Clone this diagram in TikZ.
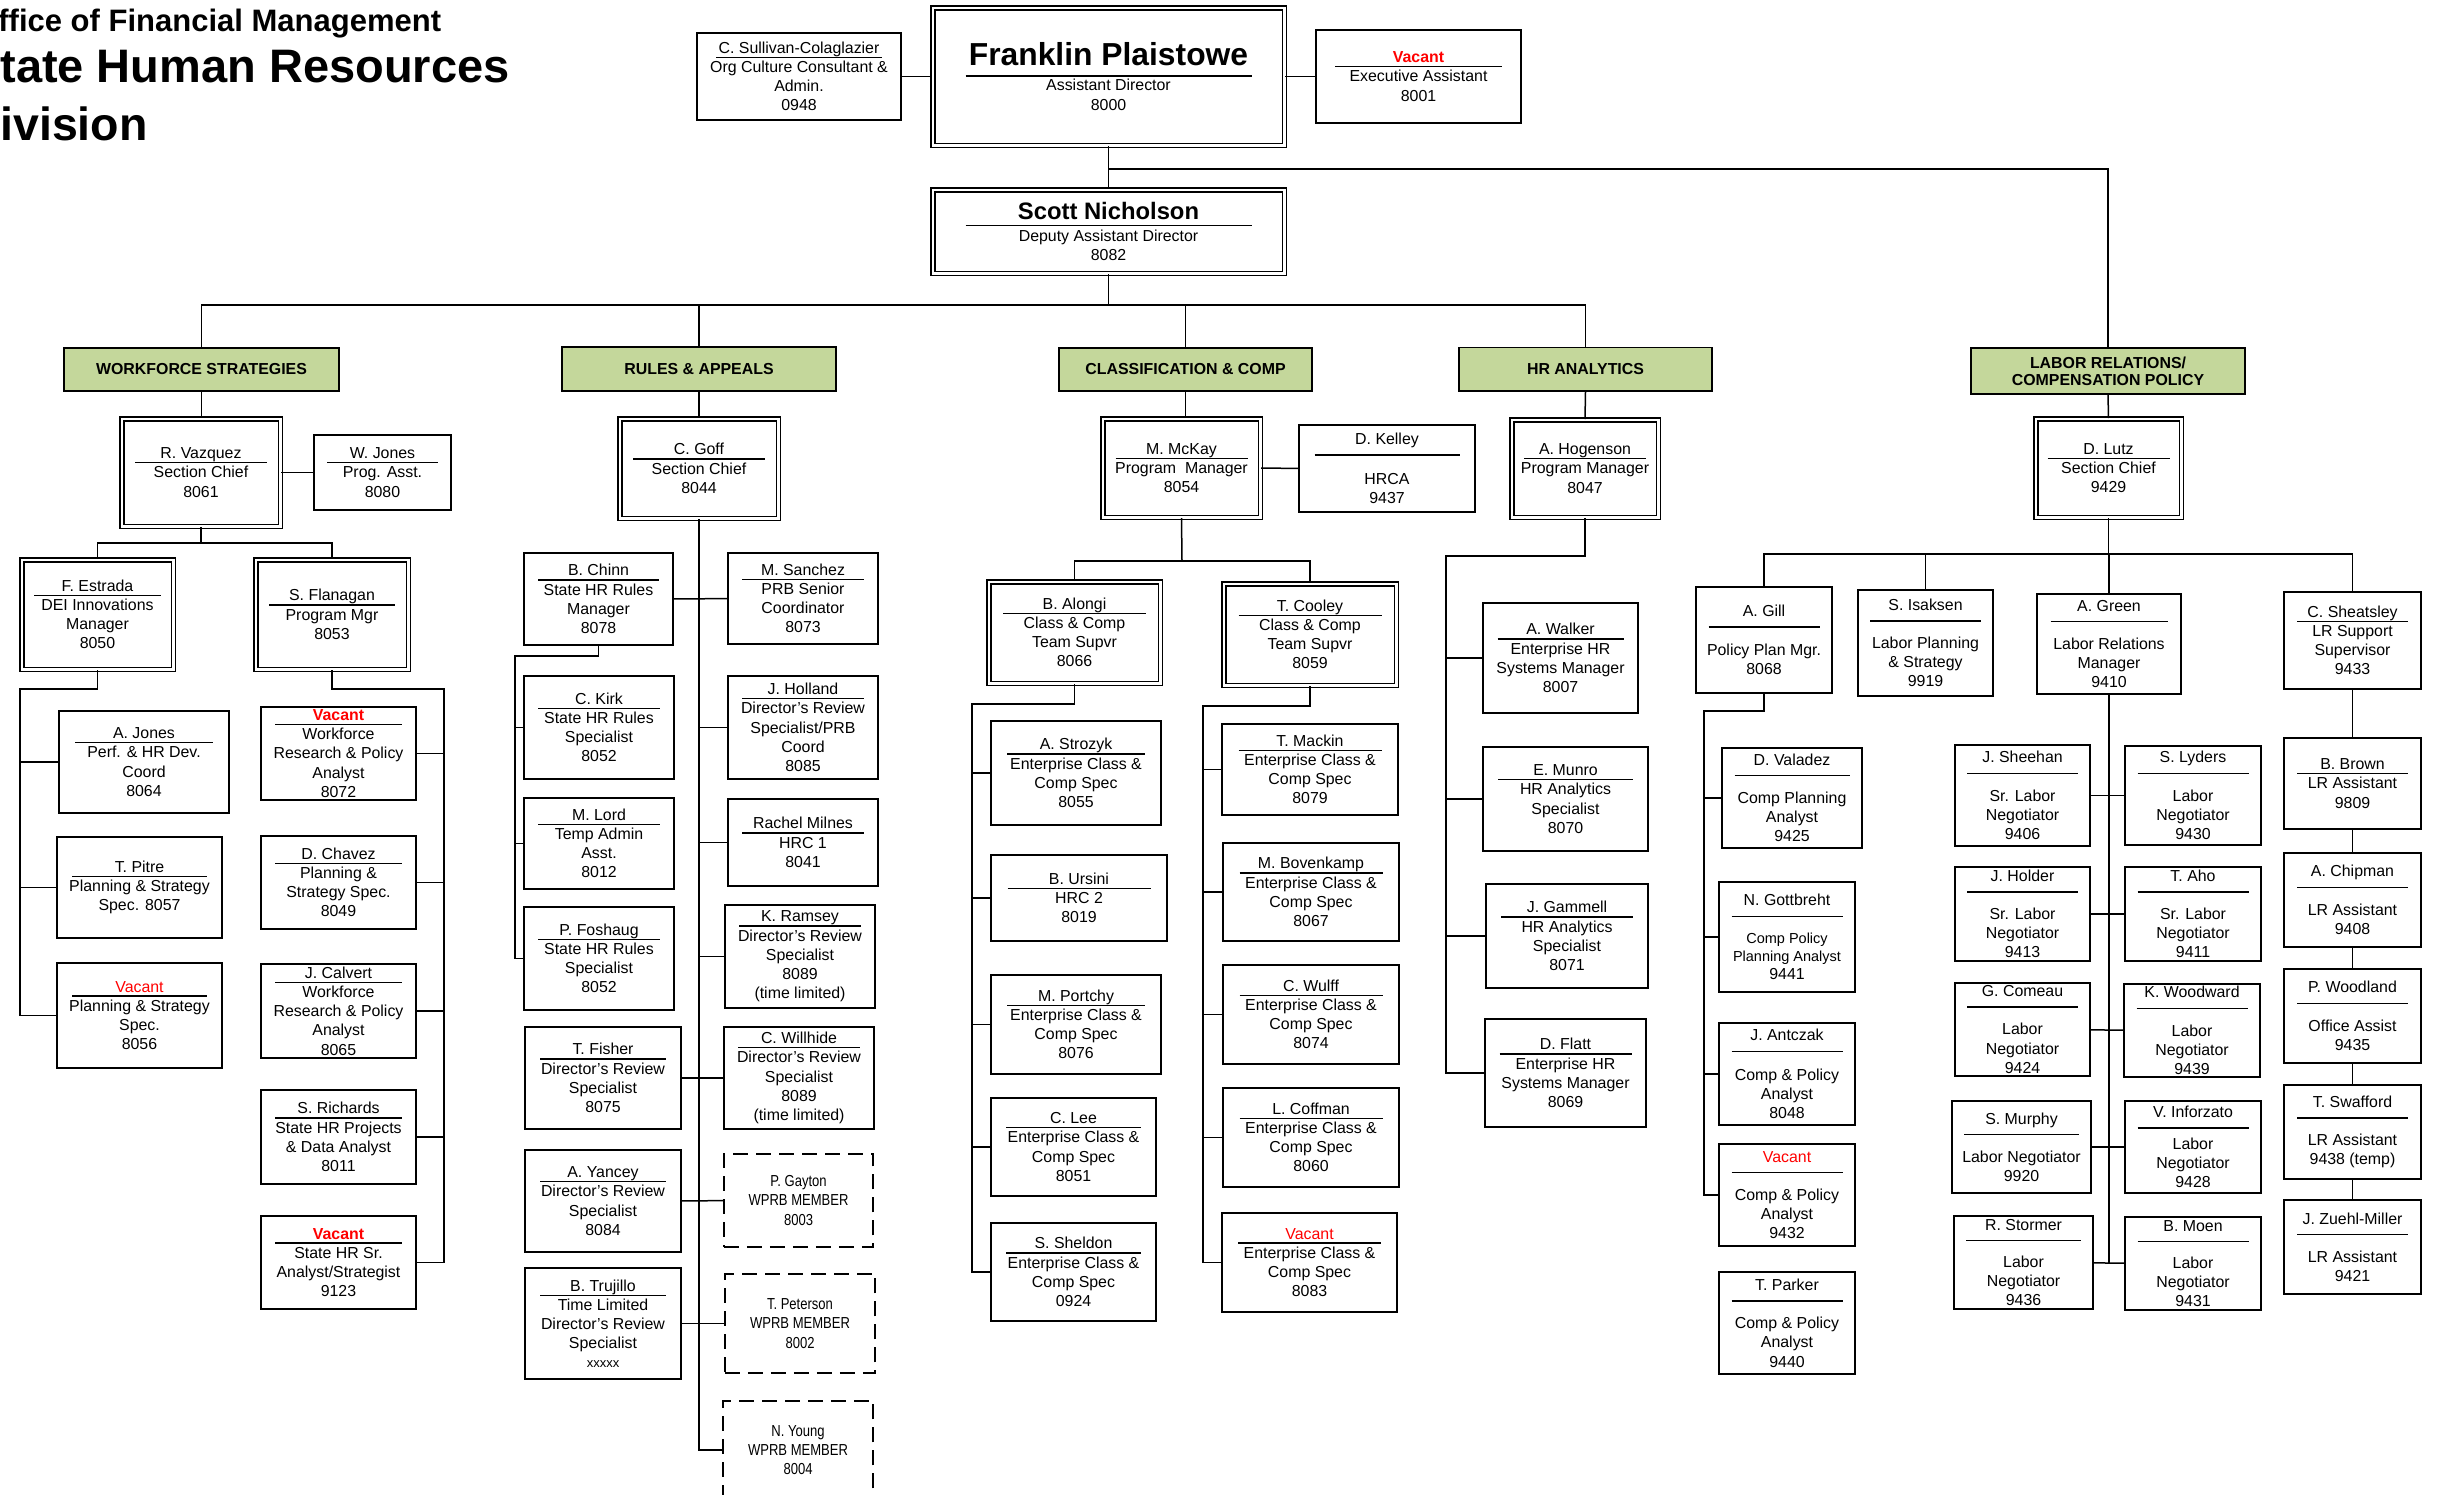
\documentclass[tikz,border=0pt]{standalone}
\usepackage{fontspec}
\setmainfont{Liberation Sans}
\newfontfamily\narrowfont[FakeStretch=0.82]{Liberation Sans}
\definecolor{unitgreen}{HTML}{C4D79B}
\definecolor{vacred}{HTML}{FF0000}
\newcommand\nameline[3][4.7pt]{\rlap{\smash{\raisebox{-#1}{\rule{#2}{1.4pt}}}}\makebox[#2]{#3}}

\begin{document}
\begin{tikzpicture}[-,thick,x=1pt,y=-1pt,
  staff node/.style={draw,line width=1.8pt,inner sep=0pt,align=center,font=\fontsize{15.9}{19.2}\selectfont},
  lead node/.style={staff node,double,line width=1.5pt,double distance=2.5pt},
  unit node/.style={draw,line width=1.8pt,fill=unitgreen,inner sep=0pt,align=center,font=\bfseries\fontsize{15.9}{18}\selectfont},
  board node/.style={staff node,line width=2pt,dash pattern=on 15pt off 8pt,font=\narrowfont\fontsize{15.9}{19.2}\selectfont},
  title node/.style={anchor=base west,inner sep=0pt},
  sz/.style 2 args={minimum width=#1pt-1.8pt,minimum height=#2pt-1.8pt},
  dsz/.style 2 args={minimum width=#1pt-5.5pt,minimum height=#2pt-5.5pt},
  link/.style={line width=1.5pt},
  every edge/.style={draw,line width=1.5pt}]
\useasboundingbox (0,0) rectangle (2441,1494);

% title
\node[title node,font=\bfseries\fontsize{31}{31}\selectfont] (office) at (-2,31) {ffice of Financial Management};
\node[title node,font=\bfseries\fontsize{47}{47}\selectfont] (shrd) at (0,82) {tate Human Resources};
\node[title node,font=\bfseries\fontsize{46.5}{46.5}\selectfont] (division) at (0,140) {ivision};

% director
\node[staff node,sz={206}{89}] (sullivan) at (799,76.5) {\nameline{166pt}{C. Sullivan-Colaglazier}\\Org Culture Consultant \&\\Admin.\\0948};
\node[lead node,dsz={357}{143}] (franklin) at (1108.5,76.5) {{\bfseries\fontsize{31.8}{34}\selectfont\nameline[10.7pt]{286pt}{Franklin Plaistowe}}\\[5.8pt]Assistant Director\\8000};
\node[staff node,sz={207}{95}] (vacex) at (1418.5,76.5) {\nameline{167pt}{\textbf{\textcolor{vacred}{Vacant}}}\\Executive Assistant\\8001};
\node[lead node,dsz={357}{89}] (scott) at (1108.5,231.5) {{\bfseries\fontsize{23.8}{26}\selectfont\nameline[6.7pt]{286pt}{Scott Nicholson}}\\[3pt]Deputy Assistant Director\\8082};

% sections
\node[unit node,sz={277}{45}] (ws) at (201.5,369.5) {WORKFORCE STRATEGIES};
\node[unit node,sz={276}{46}] (ra) at (699,369) {RULES \& APPEALS};
\node[unit node,sz={255}{45}] (cc) at (1185.5,369.5) {CLASSIFICATION \& COMP};
\node[unit node,sz={255}{45}] (ha) at (1585.5,369) {HR ANALYTICS};
\node[unit node,sz={276}{48}] (lr) at (2108,371) {LABOR RELATIONS/\\[-1pt]COMPENSATION POLICY};

% workforce strategies
\node[lead node,dsz={164}{113}] (vazquez) at (201,472.5) {\nameline{132pt}{R. Vazquez}\\Section Chief\\8061};
\node[staff node,sz={139}{77}] (wjones) at (382.5,472.5) {\nameline{111pt}{W. Jones}\\Prog. Asst.\\8080};
\node[lead node,dsz={157}{115}] (estrada) at (97.5,614.5) {\nameline{127pt}{F. Estrada}\\DEI Innovations\\Manager\\8050};
\node[lead node,dsz={158}{115}] (flanagan) at (332,614.5) {\nameline{126pt}{S. Flanagan}\\Program Mgr\\8053};
\node[staff node,sz={172}{104}] (ajones) at (144,762) {\nameline{138pt}{A. Jones}\\Perf. \& HR Dev.\\Coord\\8064};
\node[staff node,sz={167}{103}] (pitre) at (139.5,887.5) {\nameline{135pt}{T. Pitre}\\Planning \& Strategy\\Spec. 8057};
\node[staff node,sz={167}{107}] (vacpss) at (139.5,1015.5) {\nameline{135pt}{\textcolor{vacred}{Vacant}}\\Planning \& Strategy\\Spec.\\8056};
\node[staff node,sz={157}{95}] (vacwrp) at (338.5,753.5) {\nameline{127pt}{\textbf{\textcolor{vacred}{Vacant}}}\\Workforce\\Research \& Policy\\Analyst\\8072};
\node[staff node,sz={157}{95}] (chavez) at (338.5,882.5) {\nameline{127pt}{D. Chavez}\\Planning \&\\Strategy Spec.\\8049};
\node[staff node,sz={157}{96}] (calvert) at (338.5,1011) {\nameline{127pt}{J. Calvert}\\Workforce\\Research \& Policy\\Analyst\\8065};
\node[staff node,sz={157}{96}] (richards) at (338.5,1137) {\nameline{127pt}{S. Richards}\\State HR Projects\\\& Data Analyst\\8011};
\node[staff node,sz={157}{95}] (vacsra) at (338.5,1262.5) {\nameline{127pt}{\textbf{\textcolor{vacred}{Vacant}}}\\State HR Sr.\\Analyst/Strategist\\9123};

% rules & appeals
\node[lead node,dsz={164}{105}] (goff) at (699,468.5) {\nameline{132pt}{C. Goff}\\Section Chief\\8044};
\node[staff node,sz={151}{94}] (chinn) at (598.5,599) {\nameline{121pt}{B. Chinn}\\State HR Rules\\Manager\\8078};
\node[staff node,sz={152}{93}] (sanchez) at (803,598.5) {\nameline{122pt}{M. Sanchez}\\PRB Senior\\Coordinator\\8073};
\node[staff node,sz={152}{105}] (kirk) at (599,727.5) {\nameline{122pt}{C. Kirk}\\State HR Rules\\Specialist\\8052};
\node[staff node,sz={152}{93}] (lord) at (599,843.5) {\nameline{122pt}{M. Lord}\\Temp Admin\\Asst.\\8012};
\node[staff node,sz={152}{105}] (foshaug) at (599,958.5) {\nameline{122pt}{P. Foshaug}\\State HR Rules\\Specialist\\8052};
\node[staff node,sz={152}{105}] (holland) at (803,727.5) {\nameline{122pt}{J. Holland}\\Director’s Review\\Specialist/PRB\\Coord\\8085};
\node[staff node,sz={152}{89}] (milnes) at (803,842.5) {\nameline{122pt}{Rachel Milnes}\\HRC 1\\8041};
\node[staff node,sz={152}{105}] (ramsey) at (800,956.5) {\nameline{122pt}{K. Ramsey}\\Director’s Review\\Specialist\\8089\\(time limited)};
\node[staff node,sz={158}{104}] (fisher) at (603,1078) {\nameline{126pt}{T. Fisher}\\Director’s Review\\Specialist\\8075};
\node[staff node,sz={152}{104}] (willhide) at (799,1078) {\nameline{122pt}{C. Willhide}\\Director’s Review\\Specialist\\8089\\(time limited)};
\node[staff node,sz={158}{104}] (yancey) at (603,1201) {\nameline{126pt}{A. Yancey}\\Director’s Review\\Specialist\\8084};
\node[board node,sz={151}{95}] (gayton) at (798.5,1200.5) {P. Gayton\\WPRB MEMBER\\8003};
\node[staff node,sz={158}{113}] (trujillo) at (603,1323.5) {\nameline{126pt}{B. Trujillo}\\Time Limited\\Director’s Review\\Specialist\\[-1pt]{\fontsize{13}{13}\selectfont xxxxx}};
\node[board node,sz={152}{101}] (peterson) at (800,1323.5) {T. Peterson\\WPRB MEMBER\\8002};
\node[board node,sz={152}{100}] (young) at (798,1450) {N. Young\\WPRB MEMBER\\8004};

% classification & comp
\node[lead node,dsz={163}{104}] (mckay) at (1181.5,468) {\nameline{132pt}{M. McKay}\\Program~~Manager\\8054};
\node[staff node,sz={178}{89}] (kelley) at (1387,468.5) {\nameline[11.2pt]{145pt}{D. Kelley}\\[21pt]HRCA\\9437};
\node[lead node,dsz={177}{107}] (alongi) at (1074.5,632.5) {\nameline{143pt}{B. Alongi}\\Class \& Comp\\Team Supvr\\8066};
\node[lead node,dsz={178}{107}] (cooley) at (1310,634.5) {\nameline{143pt}{T. Cooley}\\Class \& Comp\\Team Supvr\\8059};
\node[staff node,sz={172}{106}] (strozyk) at (1076,773) {\nameline{138pt}{A. Strozyk}\\Enterprise Class \&\\Comp Spec\\8055};
\node[staff node,sz={178}{88}] (ursini) at (1079,898) {\nameline{143pt}{B. Ursini}\\HRC 2\\8019};
\node[staff node,sz={172}{101}] (portchy) at (1076,1024.5) {\nameline{138pt}{M. Portchy}\\Enterprise Class \&\\Comp Spec\\8076};
\node[staff node,sz={167}{100}] (lee) at (1073.5,1147) {\nameline{135pt}{C. Lee}\\Enterprise Class \&\\Comp Spec\\8051};
\node[staff node,sz={167}{100}] (sheldon) at (1073.5,1272) {\nameline{135pt}{S. Sheldon}\\Enterprise Class \&\\Comp Spec\\0924};
\node[staff node,sz={178}{93}] (mackin) at (1310,769.5) {\nameline{143pt}{T. Mackin}\\Enterprise Class \&\\Comp Spec\\8079};
\node[staff node,sz={178}{100}] (bovenkamp) at (1311,892) {\nameline{143pt}{M. Bovenkamp}\\Enterprise Class \&\\Comp Spec\\8067};
\node[staff node,sz={178}{101}] (wulff) at (1311,1014.5) {\nameline{143pt}{C. Wulff}\\Enterprise Class \&\\Comp Spec\\8074};
\node[staff node,sz={178}{101}] (coffman) at (1311,1137.5) {\nameline{143pt}{L. Coffman}\\Enterprise Class \&\\Comp Spec\\8060};
\node[staff node,sz={177}{101}] (vacecc) at (1309.5,1262.5) {\nameline{143pt}{\textcolor{vacred}{Vacant}}\\Enterprise Class \&\\Comp Spec\\8083};

% hr analytics
\node[lead node,dsz={152}{103}] (hogenson) at (1585,468.5) {\nameline{122pt}{A. Hogenson}\\Program Manager\\8047};
\node[staff node,sz={157}{112}] (walker) at (1560.5,658) {\nameline{126pt}{A. Walker}\\Enterprise HR\\Systems Manager\\8007};
\node[staff node,sz={167}{106}] (munro) at (1565.5,799) {\nameline{135pt}{E. Munro}\\HR Analytics\\Specialist\\8070};
\node[staff node,sz={164}{106}] (gammell) at (1567,936) {\nameline{132pt}{J. Gammell}\\HR Analytics\\Specialist\\8071};
\node[staff node,sz={163}{110}] (flatt) at (1565.5,1073) {\nameline{132pt}{D. Flatt}\\Enterprise HR\\Systems Manager\\8069};

% labor relations / compensation policy
\node[lead node,dsz={151}{104}] (lutz) at (2108.5,468) {\nameline{122pt}{D. Lutz}\\Section Chief\\9429};
\node[staff node,sz={138}{108}] (gill) at (1764,640) {\nameline[11.2pt]{111pt}{A. Gill}\\[20pt]Policy Plan Mgr.\\8068};
\node[staff node,sz={137}{108}] (isaksen) at (1925.5,643) {\nameline[11.2pt]{111pt}{S. Isaksen}\\[19pt]Labor Planning\\\& Strategy\\9919};
\node[staff node,sz={146}{102}] (green) at (2109,644) {\nameline[11.2pt]{117pt}{A. Green}\\[19pt]Labor Relations\\Manager\\9410};
\node[staff node,sz={142}{102}] (valadez) at (1792,798) {\nameline[10.7pt]{115pt}{D. Valadez}\\[19pt]Comp Planning\\Analyst\\9425};
\node[staff node,sz={138}{112}] (gottbreht) at (1787,937) {\nameline[11.2pt]{111pt}{N. Gottbreht}\\[18pt]{\fontsize{14.5}{18}\selectfont Comp Policy}\\[-1pt]{\fontsize{14.5}{18}\selectfont Planning Analyst}\\[-1pt]9441};
\node[staff node,sz={138}{104}] (antczak) at (1787,1074) {\nameline[11.2pt]{111pt}{J. Antczak}\\[20pt]Comp \& Policy\\Analyst\\8048};
\node[staff node,sz={138}{104}] (vaccpa) at (1787,1195) {\nameline[11.2pt]{111pt}{\textcolor{vacred}{Vacant}}\\[19pt]Comp \& Policy\\Analyst\\9432};
\node[staff node,sz={138}{104}] (parker) at (1787,1323) {\nameline[11.2pt]{111pt}{T. Parker}\\[19pt]Comp \& Policy\\Analyst\\9440};
\node[staff node,sz={137}{103}] (sheehan) at (2022.5,795.5) {\nameline[11.2pt]{111pt}{J. Sheehan}\\[19pt]Sr. Labor\\Negotiator\\9406};
\node[staff node,sz={138}{101}] (lyders) at (2193,795.5) {\nameline[11.2pt]{111pt}{S. Lyders}\\[19pt]Labor\\Negotiator\\9430};
\node[staff node,sz={137}{96}] (holder) at (2022.5,914) {\nameline[11.2pt]{111pt}{J. Holder}\\[19pt]Sr. Labor\\Negotiator\\9413};
\node[staff node,sz={138}{96}] (aho) at (2193,914) {\nameline[11.2pt]{111pt}{T. Aho}\\[19pt]Sr. Labor\\Negotiator\\9411};
\node[staff node,sz={137}{95}] (comeau) at (2022.5,1029.5) {\nameline[11.2pt]{111pt}{G. Comeau}\\[19pt]Labor\\Negotiator\\9424};
\node[staff node,sz={138}{95}] (woodward) at (2192,1030.5) {\nameline[11.2pt]{111pt}{K. Woodward}\\[19pt]Labor\\Negotiator\\9439};
\node[staff node,sz={141}{94}] (murphy) at (2021.5,1147) {\nameline[11.2pt]{115pt}{S. Murphy}\\[19pt]Labor Negotiator\\9920};
\node[staff node,sz={138}{94}] (inforzato) at (2193,1147) {\nameline[10.7pt]{111pt}{V. Inforzato}\\[12pt]Labor\\Negotiator\\9428};
\node[staff node,sz={141}{95}] (stormer) at (2023.5,1262.5) {\nameline[11.2pt]{115pt}{R. Stormer}\\[18pt]Labor\\Negotiator\\9436};
\node[staff node,sz={138}{95}] (moen) at (2193,1263.5) {\nameline[11.2pt]{111pt}{B. Moen}\\[18pt]Labor\\Negotiator\\9431};
\node[staff node,sz={139}{99}] (sheatsley) at (2352.5,640.5) {\nameline{111pt}{C. Sheatsley}\\LR Support\\Supervisor\\9433};
\node[staff node,sz={139}{93}] (brown) at (2352.5,783.5) {\nameline{111pt}{B. Brown}\\LR Assistant\\9809};
\node[staff node,sz={139}{96}] (chipman) at (2352.5,900) {\nameline[11.2pt]{111pt}{A. Chipman}\\[19pt]LR Assistant\\9408};
\node[staff node,sz={139}{96}] (woodland) at (2352.5,1016) {\nameline[11.2pt]{111pt}{P. Woodland}\\[19pt]Office Assist\\9435};
\node[staff node,sz={139}{96},line width=2.6pt] (swafford) at (2352.5,1132) {\nameline[11.2pt]{111pt}{T. Swafford}\\[19pt]LR Assistant\\9438 (temp)};
\node[staff node,sz={139}{96}] (zuehl) at (2352.5,1247) {\nameline[11.2pt]{111pt}{J. Zuehl-Miller}\\[19pt]LR Assistant\\9421};

% connectors
\coordinate (dirbus) at (1108.5,305);
\coordinate (vzbus) at (201,543);
\coordinate (esbus) at (20,689);
\coordinate (flbus) at (444,689);
\coordinate (chbus) at (515,656);
\coordinate (mkbus) at (1182,561);
\coordinate (albus) at (972,704);
\coordinate (cobus) at (1203,706);
\coordinate (hgbus) at (1446,556);
\coordinate (lzbus) at (2108.5,554);
\coordinate (glbus) at (1704,711);

\path (sullivan) edge (franklin)
      (franklin) edge (vacex)
      (franklin) edge (scott)
      (vazquez) edge (wjones)
      (chinn) edge (sanchez)
      (fisher) edge (willhide)
      (yancey) edge (gayton)
      (trujillo) edge (peterson)
      (mckay) edge (kelley)
      (sheehan) edge (lyders)
      (holder) edge (aho)
      (comeau) edge (woodward)
      (murphy) edge (inforzato)
      (stormer) edge (moen)
      (sheatsley) edge (brown)
      (brown) edge (chipman)
      (chipman) edge (woodland)
      (woodland) edge (swafford)
      (swafford) edge (zuehl);

\draw[link] (franklin.south) ++(0,23) -| (lr.north);
\draw[link] (scott.south) -- (dirbus);
\draw[link] (ws.north) |- (dirbus) -| (ha.north);
\draw[link] (ra.north) -- (ra.north |- dirbus);
\draw[link] (cc.north) -- (cc.north |- dirbus);

\draw[link] (ws.south) -- (ws.south |- vazquez.north);
\draw[link] (vazquez.south) -- (vzbus);
\draw[link] (estrada.north) |- (vzbus) -| (flanagan.north);
\draw[link] (estrada.south) |- (esbus) |- (vacpss.west);
\draw[link] (esbus |- ajones.west) -- (ajones.west);
\draw[link] (esbus |- pitre.west) -- (pitre.west);
\draw[link] (flanagan.south) |- (flbus) |- (vacsra.east);
\draw[link] (flbus |- vacwrp.east) -- (vacwrp.east);
\draw[link] (flbus |- chavez.east) -- (chavez.east);
\draw[link] (flbus |- calvert.east) -- (calvert.east);
\draw[link] (flbus |- richards.east) -- (richards.east);

\draw[link] (ra.south) -- (goff.north);
\draw[link] (goff.south) |- (young.west);
\draw[link] (goff.south |- holland.west) -- (holland.west);
\draw[link] (goff.south |- milnes.west) -- (milnes.west);
\draw[link] (goff.south |- ramsey.west) -- (ramsey.west);
\draw[link] (chinn.south) |- (chbus) |- (foshaug.west);
\draw[link] (chbus |- kirk.west) -- (kirk.west);
\draw[link] (chbus |- lord.west) -- (lord.west);

\draw[link] (cc.south) -- (cc.south |- mckay.north);
\draw[link] (mckay.south) -- (mkbus);
\draw[link] (alongi.north) |- (mkbus) -| (cooley.north);
\draw[link] (alongi.south) |- (albus) |- (sheldon.west);
\draw[link] (albus |- strozyk.west) -- (strozyk.west);
\draw[link] (albus |- ursini.west) -- (ursini.west);
\draw[link] (albus |- portchy.west) -- (portchy.west);
\draw[link] (albus |- lee.west) -- (lee.west);
\draw[link] (cooley.south) |- (cobus) |- (vacecc.west);
\draw[link] (cobus |- mackin.west) -- (mackin.west);
\draw[link] (cobus |- bovenkamp.west) -- (bovenkamp.west);
\draw[link] (cobus |- wulff.west) -- (wulff.west);
\draw[link] (cobus |- coffman.west) -- (coffman.west);

\draw[link] (ha.south) -- (hogenson.north);
\draw[link] (hogenson.south) |- (hgbus) |- (flatt.west);
\draw[link] (hgbus |- walker.west) -- (walker.west);
\draw[link] (hgbus |- munro.west) -- (munro.west);
\draw[link] (hgbus |- gammell.west) -- (gammell.west);

\draw[link] (lr.south) -- (lutz.north);
\draw[link] (lutz.south) -- (lzbus);
\draw[link] (gill.north) |- (lzbus) -| (sheatsley.north);
\draw[link] (isaksen.north) -- (isaksen.north |- lzbus);
\draw[link] (green.north) -- (green.north |- lzbus);
\draw[link] (gill.south) |- (glbus) |- (vaccpa.west);
\draw[link] (glbus |- valadez.west) -- (valadez.west);
\draw[link] (glbus |- gottbreht.west) -- (gottbreht.west);
\draw[link] (glbus |- antczak.west) -- (antczak.west);
\draw[link] (green.south) -- (green.south |- moen.west);
\end{tikzpicture}
\end{document}
